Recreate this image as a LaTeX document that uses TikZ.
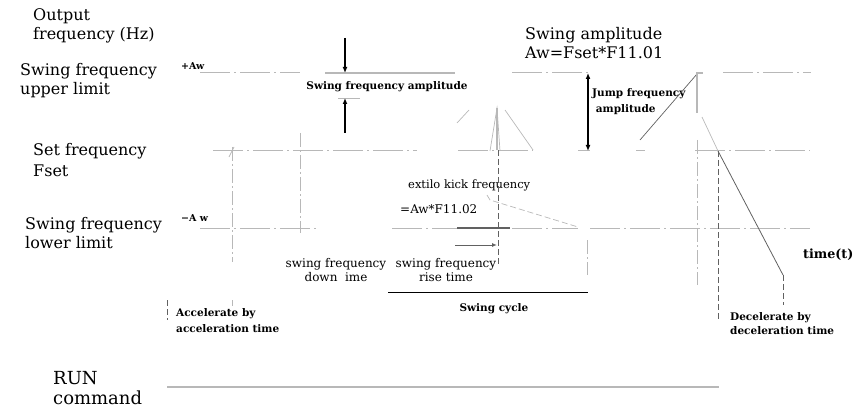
\documentclass[tikz,border=0pt]{standalone}
\usepackage{fontspec}
\setmainfont{DejaVu Serif}
\usetikzlibrary{arrows.meta}
\definecolor{lg}{gray}{0.72}
\definecolor{dg}{gray}{0.38}
\begin{document}
\begin{tikzpicture}[x=1pt,y=-1pt,
  big/.style={inner sep=0pt,anchor=west,align=left,font=\fontsize{16}{19}\selectfont},
  small/.style={inner sep=0pt,font=\bfseries\fontsize{10.5}{16}\selectfont},
  mid/.style={inner sep=0pt,font=\fontsize{12}{14}\selectfont},
  gline/.style={draw=lg,line width=1pt,dash pattern=on 30pt off 4pt on 2pt off 4pt},
  vline/.style={draw=lg,line width=0.9pt,dash pattern=on 14pt off 3pt on 2pt off 3pt},
  dline/.style={draw=dg,line width=0.7pt,dash pattern=on 6pt off 3pt},
  thin/.style={draw=lg,line width=0.7pt},
  arr/.style={draw=black,line width=1.2pt,-{Latex[length=6pt,width=5pt]}}]
\useasboundingbox (0,0) rectangle (865,409);
% ---- labels
\node[big] (out) at (33,26) {Output\\frequency (Hz)};
\node[big] (upl) at (20,81) {Swing frequency\\upper limit};
\node[big,font=\fontsize{16}{21}\selectfont] (fset) at (33,160.5) {Set frequency\\Fset};
\node[big] (lol) at (25,233) {Swing frequency\\lower limit};
\node[big,font=\fontsize{18}{20}\selectfont] (run) at (53,388) {RUN\\command};
\node[big] (swa) at (525,43.5) {Swing amplitude\\Aw=Fset*F11.01};
\node[small,anchor=west,font=\bfseries\fontsize{9.5}{10}\selectfont] (paw) at (181,66) {+Aw};
\node[small,anchor=west,font=\bfseries\fontsize{9.5}{10}\selectfont] (maw) at (181,218) {−A w};
\node[small] (sfa) at (387,87) {Swing frequency amplitude};
\node[small,anchor=west,align=left] (jfa) at (592,102) {Jump frequency\\\ amplitude};
\node[mid,anchor=west,font=\fontsize{11.5}{14}\selectfont] (kick) at (408,185) {extilo kick frequency};
\node[mid,anchor=west] (kickv) at (400,209) {=Aw*F11.02};
\node[mid,align=center,font=\fontsize{12}{14}\selectfont] (sdt) at (336,270) {swing frequency\\down \ ime};
\node[mid,align=center,font=\fontsize{12}{14}\selectfont] (srt) at (446,270) {swing frequency\\rise time};
\node[small,anchor=west,font=\bfseries\fontsize{12.7}{14}\selectfont] (time) at (803,255) {time(t)};
\node[small] (cyc) at (494,309) {Swing cycle};
\node[small,anchor=west,align=left] (acc) at (176,321) {Accelerate by\\acceleration time};
\node[small,anchor=west,align=left,font=\bfseries\fontsize{10.5}{14}\selectfont] (dec) at (730,324) {Decelerate by\\deceleration time};
% ---- coordinates
\coordinate (a1) at (345,38);  \coordinate (a2) at (345,73);
\coordinate (b1) at (345,133); \coordinate (b2) at (345,98);
\coordinate (j1) at (588,73);  \coordinate (j2) at (588,151);
\coordinate (r1) at (455,245); \coordinate (r2) at (497,245);
% ---- horizontal level lines
\draw[gline] (200,73) -- (300,73);
\draw[draw=lg,line width=2pt] (325,73) -- (455,73);
\draw[gline] (512,73) -- (590,73);
\draw[gline] (723,73) -- (811,73);
\draw[gline] (338,99) -- (360,99);
\draw[gline] (213,151) -- (417,151);
\draw[gline] (458,151) -- (533,151);
\draw[gline] (578,151) -- (590,151);
\draw[gline] (636,151) -- (645,151);
\draw[gline] (695,151) -- (810,151);
\draw[gline] (200,228) -- (318,228);
\draw[gline] (392,228) -- (578,228);
\draw[draw=dg,line width=1.2pt] (457,228) -- (510,228);
\draw[gline] (590,228) -- (810,228);
% ---- vertical lines
\draw[vline] (232,147) -- (232,262);
\draw[vline] (232,300) -- (232,306);
\draw[thin] (229,157) -- (234,147);
\draw[vline] (300,133) -- (300,233);
\draw[dline] (498,150) -- (498,265);
\draw[vline] (587,240) -- (587,275);
\draw[vline] (697,140) -- (697,285);
\draw[dline] (718,151) -- (718,320);
\draw[dline] (783,275) -- (783,305);
\draw[dline] (167,300) -- (167,320);
% ---- waveform remnants
\draw[thin] (457,123) -- (469,110);
\draw[thin] (505,110) -- (533,150);
\draw[thin] (490,151) -- (497,108) -- (500,151);
\draw[draw=lg,line width=1.2pt] (497,108) -- (497,150);
\draw[dline,draw=lg] (487,195) -- (490,200) -- (578,227);
\draw[thin,draw=dg] (640,140) -- (697,74);
\draw[draw=lg,line width=1.2pt] (697,113) -- (697,73) -- (703,73);
\draw[thin] (702,117) -- (718,151);
\draw[draw=dg,line width=0.8pt] (718,151) -- (783,275);
% ---- arrows
\draw[arr] (a1) -- (a2);
\draw[arr] (b1) -- (b2);
\draw[draw=black,line width=1.4pt,{Latex[length=6pt,width=5pt]}-{Latex[length=6pt,width=5pt]}] (j1) -- (j2);
\draw[draw=dg,line width=1pt,-{Latex[length=5pt,width=4pt]}] (r1) -- (r2);
% ---- swing cycle and run lines
\draw[line width=1pt] (388,292) -- (588,292);
\draw[draw=lg,line width=1.2pt] (167,387) -- (719,387);
\end{tikzpicture}
\end{document}
